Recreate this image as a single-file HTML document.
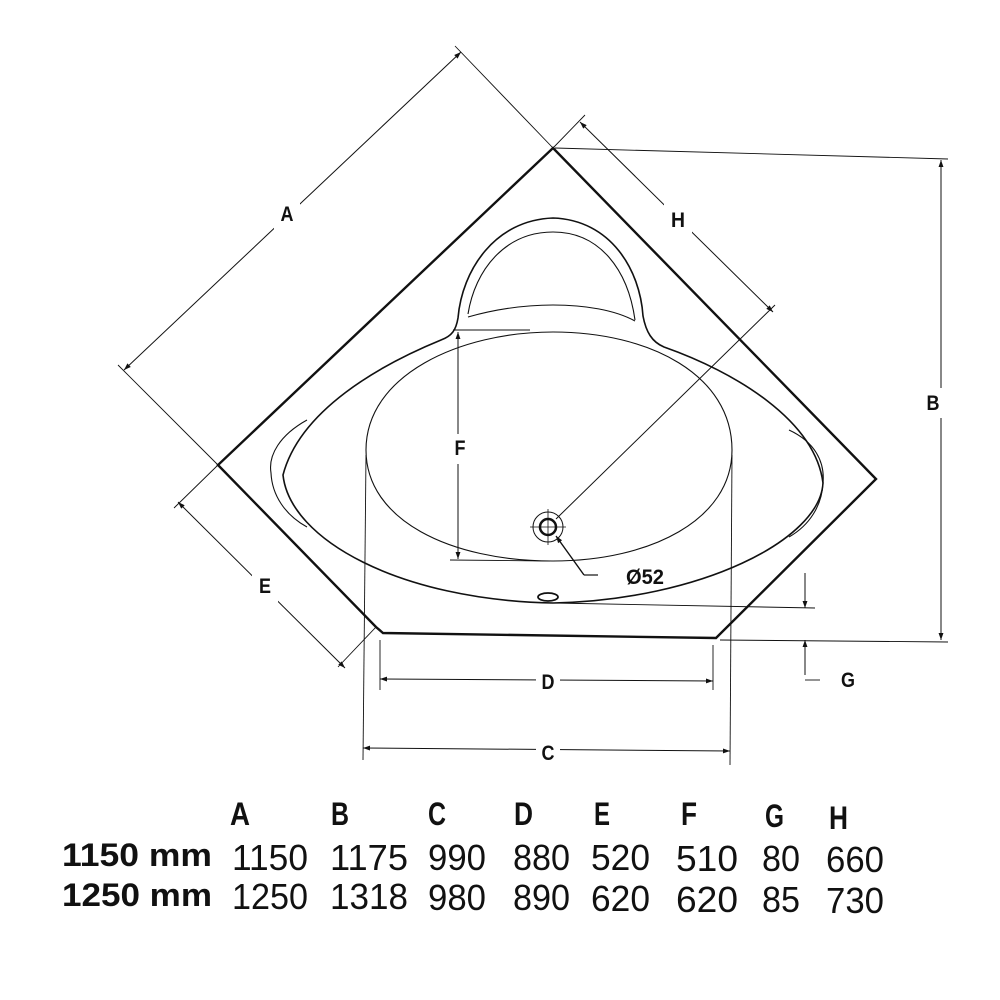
<!DOCTYPE html>
<html><head><style>html,body{margin:0;padding:0;background:#fff}svg{display:block}</style></head>
<body>
<svg width="1000" height="1000" viewBox="0 0 1000 1000" xmlns="http://www.w3.org/2000/svg" font-family="Liberation Sans, sans-serif">
<defs>
<marker id="ar" viewBox="0 0 10 10" refX="10" refY="5" markerWidth="16" markerHeight="7" orient="auto-start-reverse" markerUnits="userSpaceOnUse"><path d="M0,1.5 L10,5 L0,8.5 z" fill="#111"/></marker>
</defs>
<g fill="none" stroke="#111">
<path d="M553,148 L876,479 L716,638 L383,633 L376,627 L218,465 Z" stroke-width="2.4"/>
<path d="M283,475 C300,410 380,365 441,340 C452,336 456,330 458,318 C462,270 495,220 553,218 C611,220 640,270 643,316 C646,332 652,342 664,347 C735,372 815,420 823,483 C820,540 700,600 553,603 C400,600 290,540 283,475 Z" stroke-width="1.6"/>
<path d="M468,314 C475,270 505,232 553,232 C600,232 628,270 635,320" stroke-width="1.1"/>
<path d="M468,317 C500,308 530,305 553,305 C585,305 615,310 635,321" stroke-width="1.1"/>
<path d="M307,420 C280,435 268,455 271,473 C272,495 285,515 307,527" stroke-width="1.1"/>
<path d="M789,430 C815,442 825,462 823,483 C822,505 810,525 789,537" stroke-width="1.1"/>
<path d="M553,332 C460,332 366,375 366,450 C366,520 450,561 553,561 C650,561 732,520 732,450 C732,375 650,332 553,332 Z" stroke-width="1.1"/>
<circle cx="548" cy="527" r="15" stroke-width="1"/>
<circle cx="548" cy="527" r="8" stroke-width="2.5"/>
<line x1="530" y1="527" x2="566" y2="527" stroke-width="0.8"/>
<line x1="548" y1="509" x2="548" y2="545" stroke-width="0.8"/>
<ellipse cx="548" cy="597" rx="10" ry="4" stroke-width="1.8"/>
<path d="M584,575 L598,575" stroke-width="1.2"/>
<line x1="584" y1="575" x2="556" y2="536" stroke-width="1.4" marker-end="url(#ar)"/>
<line x1="556" y1="519" x2="775" y2="305" stroke-width="1"/>
<line x1="124" y1="370" x2="461" y2="52" stroke-width="1" marker-start="url(#ar)" marker-end="url(#ar)"/>
<line x1="218" y1="465" x2="118" y2="365" stroke-width="0.9"/>
<line x1="553" y1="148" x2="455" y2="46" stroke-width="0.9"/>
<line x1="580" y1="122" x2="773" y2="312" stroke-width="1" marker-start="url(#ar)" marker-end="url(#ar)"/>
<line x1="553" y1="148" x2="585" y2="115" stroke-width="0.9"/>
<line x1="941" y1="160" x2="941" y2="640" stroke-width="1" marker-start="url(#ar)" marker-end="url(#ar)"/>
<line x1="555" y1="148" x2="948" y2="159" stroke-width="0.9"/>
<line x1="720" y1="640" x2="948" y2="642" stroke-width="0.9"/>
<line x1="178" y1="502" x2="345" y2="668" stroke-width="1" marker-start="url(#ar)" marker-end="url(#ar)"/>
<line x1="218" y1="465" x2="174" y2="508" stroke-width="0.9"/>
<line x1="376" y1="627" x2="338" y2="667" stroke-width="0.9"/>
<line x1="458" y1="332" x2="458" y2="559" stroke-width="1" marker-start="url(#ar)" marker-end="url(#ar)"/>
<line x1="453" y1="330" x2="530" y2="330" stroke-width="0.9"/>
<line x1="450" y1="560" x2="550" y2="561" stroke-width="0.9"/>
<line x1="380" y1="679" x2="713" y2="681" stroke-width="1" marker-start="url(#ar)" marker-end="url(#ar)"/>
<line x1="380" y1="640" x2="380" y2="690" stroke-width="0.9"/>
<line x1="713" y1="645" x2="713" y2="690" stroke-width="0.9"/>
<line x1="363" y1="748" x2="730" y2="751" stroke-width="1" marker-start="url(#ar)" marker-end="url(#ar)"/>
<line x1="366" y1="455" x2="363" y2="760" stroke-width="0.9"/>
<line x1="732" y1="455" x2="730" y2="765" stroke-width="0.9"/>
<line x1="805" y1="573" x2="805" y2="608" stroke-width="1" marker-end="url(#ar)"/>
<line x1="805" y1="675" x2="805" y2="640" stroke-width="1" marker-end="url(#ar)"/>
<line x1="805" y1="680" x2="820" y2="680" stroke-width="0.9"/>
<line x1="553" y1="603" x2="815" y2="608" stroke-width="0.9"/>
</g>
<g fill="#fff">
<rect x="274" y="194" width="26" height="38"/>
<rect x="664" y="200" width="28" height="38"/>
<rect x="922" y="388" width="24" height="30"/>
<rect x="252" y="566" width="26" height="38"/>
<rect x="448" y="434" width="22" height="30"/>
<rect x="536" y="670" width="24" height="22"/>
<rect x="536" y="740" width="24" height="22"/>
</g>
<g fill="#111" font-weight="bold" font-size="21" text-anchor="middle">
<text x="287" y="221" textLength="13" lengthAdjust="spacingAndGlyphs">A</text>
<text x="678" y="227" textLength="14" lengthAdjust="spacingAndGlyphs">H</text>
<text x="933" y="410" textLength="13" lengthAdjust="spacingAndGlyphs">B</text>
<text x="265" y="593" textLength="12" lengthAdjust="spacingAndGlyphs">E</text>
<text x="460" y="455" textLength="11" lengthAdjust="spacingAndGlyphs">F</text>
<text x="548" y="689" textLength="13" lengthAdjust="spacingAndGlyphs">D</text>
<text x="548" y="760" textLength="13" lengthAdjust="spacingAndGlyphs">C</text>
<text x="848" y="687" textLength="14" lengthAdjust="spacingAndGlyphs">G</text>
<text x="645" y="584" textLength="38" lengthAdjust="spacingAndGlyphs">Ø52</text>
</g>
<g fill="#111" font-size="36">
<g font-weight="bold" font-size="32">
<text x="230" y="825" textLength="20" lengthAdjust="spacingAndGlyphs">A</text><text x="331" y="825" textLength="18" lengthAdjust="spacingAndGlyphs">B</text><text x="428" y="825" textLength="18" lengthAdjust="spacingAndGlyphs">C</text><text x="514" y="825" textLength="19" lengthAdjust="spacingAndGlyphs">D</text><text x="594" y="825" textLength="16" lengthAdjust="spacingAndGlyphs">E</text><text x="681" y="825" textLength="16" lengthAdjust="spacingAndGlyphs">F</text><text x="765" y="827" textLength="19" lengthAdjust="spacingAndGlyphs">G</text><text x="829" y="829" textLength="19" lengthAdjust="spacingAndGlyphs">H</text>
<text x="62" y="866" textLength="150" lengthAdjust="spacingAndGlyphs">1150 mm</text>
<text x="62" y="906" textLength="150" lengthAdjust="spacingAndGlyphs">1250 mm</text>
</g>
<g>
<text x="232" y="870" textLength="76" lengthAdjust="spacingAndGlyphs">1150</text>
<text x="330" y="870" textLength="78" lengthAdjust="spacingAndGlyphs">1175</text>
<text x="428" y="870" textLength="58" lengthAdjust="spacingAndGlyphs">990</text>
<text x="513" y="870" textLength="57" lengthAdjust="spacingAndGlyphs">880</text>
<text x="591" y="870" textLength="59" lengthAdjust="spacingAndGlyphs">520</text>
<text x="676" y="871" textLength="62" lengthAdjust="spacingAndGlyphs">510</text>
<text x="762" y="871" textLength="38" lengthAdjust="spacingAndGlyphs">80</text>
<text x="826" y="872" textLength="58" lengthAdjust="spacingAndGlyphs">660</text>
<text x="232" y="909" textLength="76" lengthAdjust="spacingAndGlyphs">1250</text>
<text x="330" y="909" textLength="78" lengthAdjust="spacingAndGlyphs">1318</text>
<text x="428" y="910" textLength="58" lengthAdjust="spacingAndGlyphs">980</text>
<text x="513" y="910" textLength="57" lengthAdjust="spacingAndGlyphs">890</text>
<text x="591" y="911" textLength="59" lengthAdjust="spacingAndGlyphs">620</text>
<text x="676" y="912" textLength="62" lengthAdjust="spacingAndGlyphs">620</text>
<text x="762" y="912" textLength="38" lengthAdjust="spacingAndGlyphs">85</text>
<text x="826" y="913" textLength="58" lengthAdjust="spacingAndGlyphs">730</text>
</g>
</g>
</svg>
</body></html>
